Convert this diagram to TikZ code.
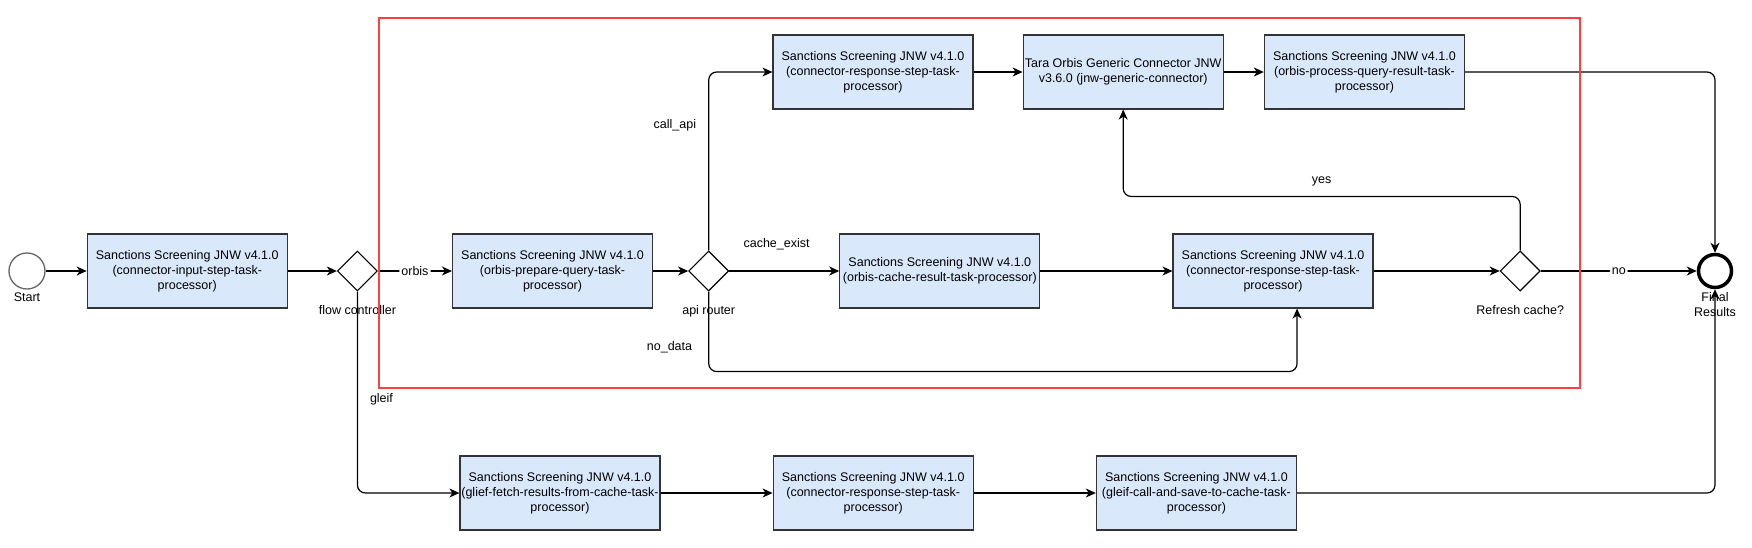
\documentclass[tikz,border=0pt]{standalone}
\usepackage{fontspec}
\setmainfont{Liberation Sans}
\usetikzlibrary{arrows.meta,positioning,shapes.geometric}
\definecolor{boxfill}{HTML}{DAE8FC}
\definecolor{boxline}{HTML}{333333}
\definecolor{grpred}{HTML}{FF4040}

\begin{document}
\begin{tikzpicture}[x=1pt,y=-1pt,
  box/.style={draw=boxline,line width=1.2pt,fill=boxfill,minimum width=200pt,minimum height=74pt,inner sep=1pt,align=center,font=\fontsize{12.5}{15}\selectfont},
  gw/.style={draw,diamond,line width=1.1pt,minimum width=40pt,minimum height=40pt,inner sep=0pt},
  lab/.style={inner sep=0pt,font=\fontsize{12.5}{15}\selectfont,align=center},
  arr/.style={-{Stealth[length=10pt,width=9pt,inset=3pt]},line width=1.2pt,rounded corners=8pt},
  grp/.style={draw=grpred,line width=1.6pt}]
\useasboundingbox (0,0) rectangle (1752,547);

% main row
\node[circle,draw=black!60,line width=1.3pt,minimum size=36pt,inner sep=0pt] (start) at (27,271) {};
\node[box,right=41pt of start] (in) {Sanctions Screening JNW v4.1.0\\(connector-input-step-task-\\processor)};
\node[gw,right=49pt of in] (flow) {};
\node[box,right=74pt of flow] (prep) {Sanctions Screening JNW v4.1.0\\(orbis-prepare-query-task-\\processor)};
\node[gw,right=35pt of prep] (api) {};
\node[box,right=110pt of api] (cache) {Sanctions Screening JNW v4.1.0\\(orbis-cache-result-task-processor)};
\node[box,right=132pt of cache] (resp) {Sanctions Screening JNW v4.1.0\\(connector-response-step-task-\\processor)};
\node[gw,right=126pt of resp] (refresh) {};
\node[circle,draw,line width=3.5pt,minimum size=33pt,inner sep=0pt,right=156pt of refresh] (final) {};

% top row
\node[box] (conn) at (873,72) {Sanctions Screening JNW v4.1.0\\(connector-response-step-task-\\processor)};
\node[box,right=49pt of conn] (tara) {Tara Orbis Generic Connector JNW\\v3.6.0 (jnw-generic-connector)};
\node[box,right=40pt of tara] (proc) {Sanctions Screening JNW v4.1.0\\(orbis-process-query-result-task-\\processor)};

% gleif row
\node[box] (fetch) at (560,493) {Sanctions Screening JNW v4.1.0\\(glief-fetch-results-from-cache-task-\\processor)};
\node[box,right=112pt of fetch] (gresp) {Sanctions Screening JNW v4.1.0\\(connector-response-step-task-\\processor)};
\node[box,right=122pt of gresp] (save) {Sanctions Screening JNW v4.1.0\\(gleif-call-and-save-to-cache-task-\\processor)};

% event and gateway labels
\node[lab,below=3pt of start] {Start};
\node[lab,below=14pt of flow] {flow controller};
\node[lab,below=14pt of api] {api router};
\node[lab,below=14pt of refresh] {Refresh cache?};
\node[lab,below=3pt of final] {Final\\Results};

% flows
\draw[arr] (start) -- (in);
\draw[arr] (in) -- (flow);
\draw[arr] (flow) -- node[lab,fill=white,inner sep=2pt]{orbis} (prep);
\draw[arr] (prep) -- (api);
\draw[arr] (api) -- node[lab,above=20pt,pos=.43]{cache\_exist} (cache);
\draw[arr] (cache) -- (resp);
\draw[arr] (resp) -- (refresh);
\draw[arr] (refresh) -- node[lab,fill=white,inner sep=2pt]{no} (final);
\draw[arr] (api.north) |- node[lab,left=12pt,pos=.35]{call\_api} (conn.west);
\draw[arr] (conn) -- (tara);
\draw[arr] (tara) -- (proc);
\draw[arr] (proc.east) -| (final.north);
\draw[arr] (refresh.north) -- ++(0,-54) -| node[lab,above=10pt,pos=.25]{yes} (tara.south);
\draw[arr] (api.south) -- node[lab,left=16pt,pos=.7]{no\_data} ++(0,80) -| ([xshift=24pt]resp.south);
\draw[arr] (flow.south) |- node[lab,right=12pt,pos=.267]{gleif} (fetch.west);
\draw[arr] (fetch) -- (gresp);
\draw[arr] (gresp) -- (save);
\draw[arr] (save.east) -| (final.south);

% orbis group frame
\draw[grp] (379,18) rectangle (1580,388);
\end{tikzpicture}
\end{document}
